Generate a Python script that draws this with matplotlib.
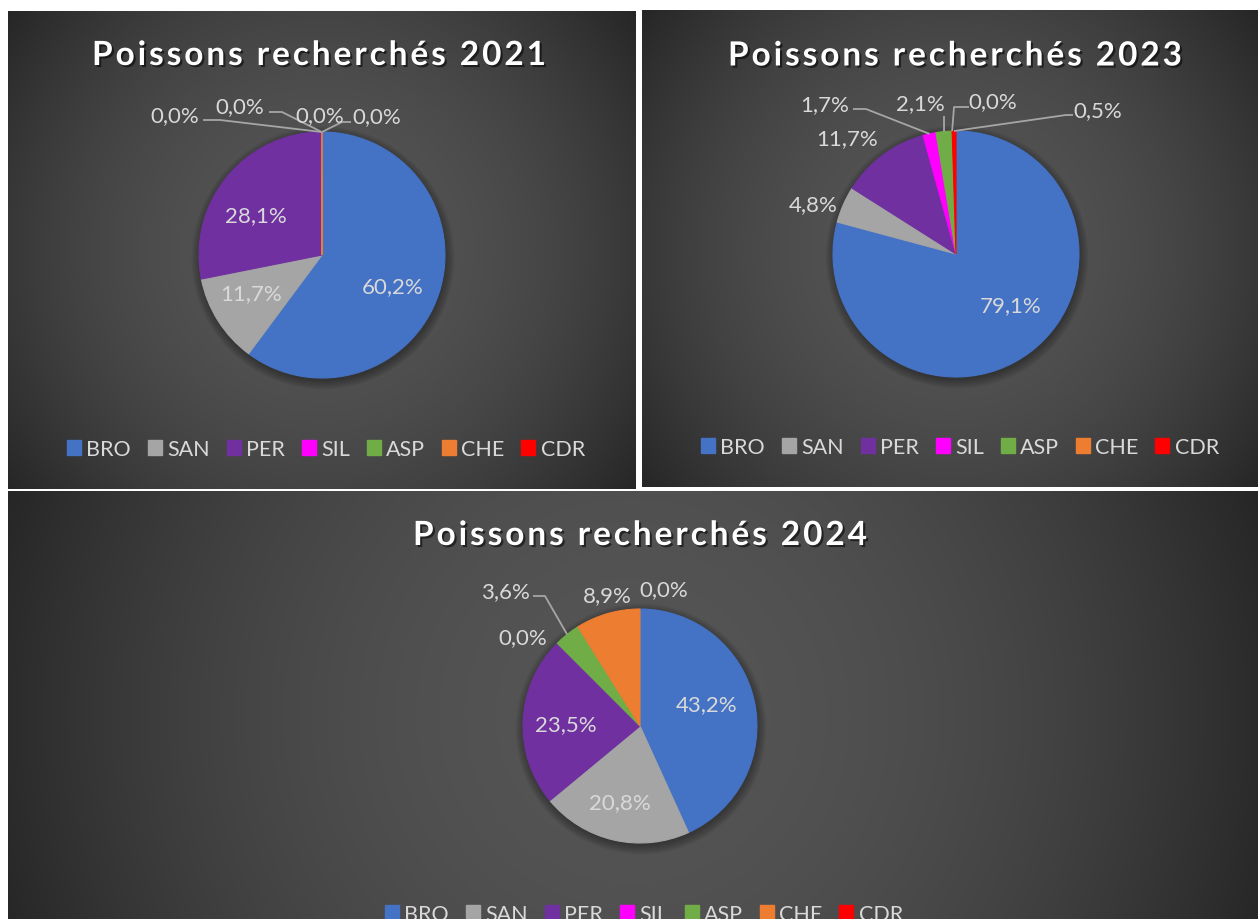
import numpy as np
import matplotlib
matplotlib.use("Agg")
import matplotlib.pyplot as plt
from matplotlib.patches import Patch, Circle
import matplotlib.patheffects as pe
from matplotlib.font_manager import FontProperties, findfont
from matplotlib.ft2font import FT2Font

# ---------------- data ----------------
species = ["BRO", "SAN", "PER", "SIL", "ASP", "CHE", "CDR"]
colors = ["#4472C4", "#A5A5A5", "#7030A0", "#FF00FF", "#70AD47", "#ED7D31", "#FF0000"]
pct_2021 = [60.2, 11.7, 28.1, 0.0, 0.0, 0.04, 0.0]
pct_2023 = [79.1, 4.8, 11.7, 1.7, 2.1, 0.0, 0.5]
pct_2024 = [43.2, 20.8, 23.5, 0.0, 3.6, 8.9, 0.0]
titles = ["Poissons recherchés 2021", "Poissons recherchés 2023", "Poissons recherchés 2024"]

# ---------------- layout (image pixel coords, y down) ----------------
W, H = 1258, 920
panels = [
    dict(values=pct_2021, title=titles[0],
         rect=(8, 12, 636, 490), gcenter=(322, 251),
         pie=(322, 256, 123), title_pos=(319, 66), legend=(326, 450),
         labels=[(393, 287), (251, 294), (256, 216), (175, 116), (240, 107), (320, 116), (377, 117)],
         leaders={3: [(203, 121), (220, 121)], 4: [(269, 113), (282, 113)], 6: [(351, 123), (342, 123)]}),
    dict(values=pct_2023, title=titles[1],
         rect=(642, 11, 1258, 488), gcenter=(950, 250),
         pie=(956, 255, 123), title_pos=(955, 66.5), legend=(960, 448),
         labels=[(1011, 306), (813, 205), (847, 139), (825, 105), (920, 104), (993, 102), (1098, 111)],
         leaders={3: [(853, 110), (866, 110)], 4: [(944, 117)], 5: [(969, 108), (954, 108)],
                  6: [(1073, 116), (1066, 116)]}),
    dict(values=pct_2024, title=titles[2],
         rect=(8, 492, 1258, 940), gcenter=(633, 716),
         pie=(640, 727, 117), title_pos=(640, 546), legend=(644, 915),
         labels=[(707, 705), (620, 803), (566, 725), (523, 638), (505, 592), (607, 596), (664, 590)],
         leaders={4: [(533, 597), (545, 597)]}),
]

LABEL_COLOR = "#D9D9D9"
LEADER_COLOR = "#A6A6A6"
C_CENTER, C_EDGE = 85, 38

fig = plt.figure(figsize=(W / 100, H / 100), dpi=100)
fig.patch.set_facecolor("white")
ax = fig.add_axes([0, 0, 1, 1])
ax.set_xlim(0, W)
ax.set_ylim(0, H)
ax.axis("off")


def Y(y):
    return H - y


title_fp = FontProperties(family="Lato", weight="bold", size=24)
label_fp = FontProperties(family="Lato", size=16)
legend_fp = FontProperties(family="Lato", size=15.5)


def spaced_text(text, xc, baseline, target_w, fp, color):
    font = FT2Font(findfont(fp))
    font.set_size(fp.get_size_in_points(), 100)
    advs = []
    for ch in text:
        g = font.load_char(ord(ch))
        advs.append(g.linearHoriAdvance / 65536.0)
    spacing = (target_w - sum(advs)) / (len(text) - 1)
    x = xc - target_w / 2
    for ch, a in zip(text, advs):
        t = ax.text(x, Y(baseline), ch, fontproperties=fp, color=color,
                    ha="left", va="baseline", zorder=10)
        t.set_path_effects([pe.withSimplePatchShadow(offset=(1.5, -1.5),
                                                     shadow_rgbFace="black", alpha=0.55)])
        x += a + spacing


for p in panels:
    x0, y0, x1, y1 = p["rect"]
    gx, gy = p["gcenter"]
    xs = np.arange(x0, x1) + 0.5
    ys = np.arange(y0, y1) + 0.5
    XX, YY = np.meshgrid(xs, ys)
    dcorner = np.hypot(max(gx - x0, x1 - gx), max(gy - y0, y1 - gy))
    t = np.clip(np.hypot(XX - gx, YY - gy) / dcorner, 0, 1)
    val = (C_CENTER - (C_CENTER - C_EDGE) * t ** 2) / 255.0
    img = np.dstack([val, val, val])
    ax.imshow(img, extent=(x0, x1, Y(y1), Y(y0)), origin="upper",
              aspect="auto", zorder=0, interpolation="bilinear")

    cx, cy, R = p["pie"]
    vals = p["values"]
    # soft shadow
    for k in range(8):
        ax.add_patch(Circle((cx + 1, Y(cy + 3)), R + k * 1.2, facecolor="black",
                            edgecolor="none", alpha=0.045, zorder=1))
    wedges, _ = ax.pie(vals, colors=colors, startangle=90, counterclock=False,
                       center=(cx, Y(cy)), radius=R, frame=True,
                       wedgeprops=dict(linewidth=0.8))
    for w, v, c in zip(wedges, vals, colors):
        w.set_edgecolor(c)
        w.set_zorder(2)
        if v == 0:
            w.set_visible(False)

    total = float(sum(vals))
    cum = np.cumsum([0] + list(vals))
    for i, (v, pos) in enumerate(zip(vals, p["labels"])):
        txt = f"{v:.1f}".replace(".", ",") + "%"
        ax.text(pos[0], Y(pos[1]), txt, fontproperties=label_fp, color=LABEL_COLOR,
                ha="center", va="center", zorder=6)
        if i in p["leaders"]:
            mid = (cum[i] + v / 2) / total
            th = 2 * np.pi * mid
            ex, ey = cx + R * np.sin(th), cy - R * np.cos(th)
            pts = p["leaders"][i] + [(ex, ey)]
            ax.plot([q[0] for q in pts], [Y(q[1]) for q in pts], color=LEADER_COLOR,
                    lw=1.3, zorder=5, solid_capstyle="butt")

    spaced_text(p["title"], p["title_pos"][0], p["title_pos"][1], 454, title_fp, "white")

    handles = [Patch(facecolor=c, edgecolor=c) for c in colors]
    lx, ly = p["legend"]
    fig.legend(handles, species, loc="center", bbox_to_anchor=(lx / W, 1 - ly / H),
               ncol=7, frameon=False, prop=legend_fp, labelcolor=LABEL_COLOR,
               handlelength=0.65, handleheight=0.7, handletextpad=0.25,
               columnspacing=0.78, borderaxespad=0, borderpad=0)

ax.set_xlim(0, W)
ax.set_ylim(0, H)
ax.set_aspect("auto")
fig.savefig("out.png", dpi=100, facecolor="white")
